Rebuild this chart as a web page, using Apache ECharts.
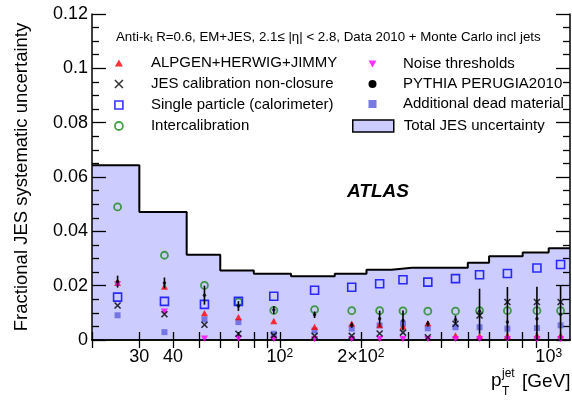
<!DOCTYPE html>
<html><head><meta charset="utf-8">
<script src="https://cdn.jsdelivr.net/npm/echarts@6/dist/echarts.min.js"></script>
<style>html,body{margin:0;padding:0;background:#fff}#c{width:572px;height:401px}</style>
</head><body><div id="c"></div>
<script>
// ---------- data ----------
const binEdges = [20, 30, 45, 60, 80, 110, 160, 210, 260, 310, 400, 500, 600, 800, 1000, 1200];
const totalJES = [0.0643, 0.0471, 0.0314, 0.0256, 0.0244, 0.0235, 0.0244, 0.0259, 0.0266, 0.0266, 0.0266, 0.0284, 0.0308, 0.0322, 0.0338];
const ptCenters = [24.9, 37.2, 52.4, 70.1, 94.9, 134.6, 185, 235, 287, 355, 450, 553, 702, 904, 1107];
const alpgen = [0.0210, 0.0197, 0.0099, 0.0084, 0.0070, 0.0048, 0.0060, 0.0055, 0.0050, 0.0062, 0.0017, 0.0015, 0.0015, 0.0017, 0.0017];
const nonClosure = [0.0127, 0.0095, 0.0056, 0.0023, 0.0017, 0.0015, 0.0015, 0.0024, 0.0027, 0.0010, 0.0060, 0.0090, 0.0140, 0.0140, 0.0140];
const singleParticle = [0.0158, 0.0142, 0.0131, 0.0142, 0.0161, 0.0183, 0.0194, 0.0207, 0.0222, 0.0213, 0.0226, 0.0240, 0.0245, 0.0265, 0.0278];
const intercalibration = [0.0490, 0.0312, 0.0201, 0.0140, 0.0109, 0.0112, 0.0108, 0.0108, 0.0107, 0.0106, 0.0106, 0.0108, 0.0108, 0.0108, 0.0108];
const noiseThresholds = [0.0205, 0.0104, 0.0005, 0.0005, 0.0003, 0.0003, 0.0003, 0.0003, 0.0003, 0.0003, 0.0003, 0.0003, 0.0003, 0.0003, 0.0003];
const pythiaPerugia = [0.0215, 0.0210, 0.0165, 0.0125, 0.0110, 0.0093, 0.0055, 0.0078, 0.0072, 0.0060, 0.0075, 0.0106, 0.0066, 0.0078, 0.0095];
const pythiaErr = [0.0022, 0.0020, 0.0035, 0.0018, 0.0015, 0.0012, 0.0010, 0.0030, 0.0037, 0.0010, 0.0015, 0.0083, 0.0129, 0.0118, 0.0105];
const deadMaterial = [0.0091, 0.0029, 0.0076, 0.0066, 0.0023, 0.0035, 0.0042, 0.0054, 0.0060, 0.0043, 0.0047, 0.0047, 0.0042, 0.0044, 0.0054];
const xLabelValues = [30, 40, 100, 200, 1000];
const xLabelTexts = ['30', '40', '{b|10}{s|2}', '{b|2×10}{s|2}', '{b|10}{s|3}'];
const xTickValues = [20, 30, 40, 50, 60, 70, 80, 90, 100, 200, 300, 400, 500, 600, 700, 800, 900, 1000];

// ---------- style ----------
const FONT = '"Liberation Sans", Arial, Helvetica, sans-serif';
const TRI_UP = 'path://M5,0L10,9L0,9Z';
const TRI_DOWN = 'path://M0,0L10,0L5,9Z';
const SQUARE = 'path://M0,0L10,0L10,10L0,10Z';
const CROSS = 'path://M0,0L10,10M10,0L0,10';
const CLEAR = 'rgba(0,0,0,0)';
const C_GREEN = '#1a8a1a', C_BLUE = '#0000ff', C_RED = '#ff0000', C_MAG = '#ff00ff', C_DEAD = '#6b6be0';

const chart = echarts.init(document.getElementById('c'), null, {renderer: 'canvas'});
const histData = binEdges.map((e, i) => [e, totalJES[Math.min(i, totalJES.length - 1)]]);
const pts = arr => ptCenters.map((x, i) => [x, arr[i]]);

function xAxis(pos, labels) {
  return {
    type: 'log', logBase: 10, min: binEdges[0], max: binEdges[binEdges.length - 1], position: pos,
    axisLine: {show: true, lineStyle: {color: '#000', width: 1.5}},
    axisTick: {show: true, inside: true, length: 8, customValues: xTickValues, lineStyle: {color: '#000', width: 1.3}},
    splitLine: {show: false},
    axisLabel: labels ? {
      show: true, customValues: xLabelValues, margin: 8, color: '#000',
      fontFamily: FONT, fontSize: 18,
      formatter: v => { const i = xLabelValues.findIndex(t => Math.abs(t - v) / t < 1e-6); return i >= 0 ? xLabelTexts[i] : ''; },
      rich: {b: {fontFamily: FONT, fontSize: 18, color: '#000'}, s: {fontFamily: FONT, fontSize: 12, color: '#000', verticalAlign: 'top'}}
    } : {show: false}
  };
}
function yAxis(pos, labels) {
  return {
    type: 'value', min: 0, max: 0.12, interval: 0.02, position: pos,
    axisLine: {show: true, lineStyle: {color: '#000', width: 1.5}},
    axisTick: {show: true, inside: true, length: 14, lineStyle: {color: '#000', width: 1.3}},
    minorTick: {show: true, length: 7, splitNumber: 4, lineStyle: {color: '#000', width: 1.3}},
    splitLine: {show: false},
    axisLabel: labels ? {show: true, margin: 4, color: '#000', fontFamily: FONT, fontSize: 18} : {show: false},
    name: labels ? 'Fractional JES systematic uncertainty' : '',
    nameLocation: 'middle', nameRotate: 90, nameGap: 61,
    nameTextStyle: {fontFamily: FONT, fontSize: 18.5, color: '#000'}
  };
}
function scatter(name, data, symbol, size, style, z) {
  return {name, type: 'scatter', data, symbol, symbolSize: size, symbolKeepAspect: true,
    itemStyle: style, z: z || 3, silent: true};
}
const legendText = {fontFamily: FONT, fontSize: 15, color: '#000'};
function legendCol(cx, textX, top, gap, items) {
  return {left: cx - 4, top, orient: 'vertical', padding: 0, itemWidth: 8, itemHeight: 8, itemGap: gap,
    selectedMode: false, textStyle: Object.assign({padding: [0, 0, 0, textX - (cx - 4) - 13]}, legendText), data: items};
}

const option = {
  animation: false,
  backgroundColor: '#fff',
  grid: {left: 92, right: 2, top: 14, bottom: 61},
  xAxis: [xAxis('bottom', true), xAxis('top', false)],
  yAxis: [yAxis('left', true), yAxis('right', false)],
  legend: [
    legendCol(118, 150, 55.5, 6, [
       {name: 'ALPGEN+HERWIG+JIMMY', icon: TRI_UP, itemStyle: {color: C_RED, borderWidth: 0}},
       {name: 'JES calibration non-closure', icon: CROSS, itemStyle: {color: CLEAR, borderColor: '#000', borderWidth: 1.6}},
       {name: 'Single particle (calorimeter)', icon: SQUARE, itemStyle: {color: CLEAR, borderColor: C_BLUE, borderWidth: 1.6}},
       {name: 'Intercalibration', icon: 'circle', itemStyle: {color: CLEAR, borderColor: C_GREEN, borderWidth: 1.8}}
    ]),
    legendCol(372.5, 403, 56.5, 5, [
       {name: 'Noise thresholds', icon: TRI_DOWN, itemStyle: {color: C_MAG, borderWidth: 0}},
       {name: 'PYTHIA PERUGIA2010', icon: 'circle', itemStyle: {color: '#000', borderWidth: 0}},
       {name: 'Additional dead material', icon: SQUARE, itemStyle: {color: C_DEAD, borderWidth: 0}}
    ]),
    {left: 352, top: 118.5, orient: 'vertical', padding: 0, itemWidth: 41, itemHeight: 12,
     selectedMode: false, textStyle: Object.assign({padding: [0, 0, 0, 5]}, legendText),
     data: [{name: 'Total JES uncertainty', icon: 'rect', itemStyle: {color: '#ccccff', borderColor: '#000', borderWidth: 1.5}}]}
  ],
  graphic: [
    {type: 'text', left: 116, top: 31, silent: true,
     style: {text: 'Anti-k{sub|t} R=0.6, EM+JES, 2.1≤ |η| < 2.8, Data 2010 + Monte Carlo incl jets',
             fontFamily: FONT, fontSize: 13.3, fill: '#000',
             rich: {sub: {fontFamily: FONT, fontSize: 9, fill: '#000', verticalAlign: 'bottom'}}}},
    {type: 'text', x: 347, y: 192, silent: true,
     style: {text: 'ATLAS', fontFamily: FONT, fontSize: 19, fontWeight: 'bold', fontStyle: 'italic', fill: '#000', verticalAlign: 'middle'}},
    {type: 'text', x: 491, y: 381, silent: true, style: {text: 'p', fontFamily: FONT, fontSize: 19, fill: '#000', verticalAlign: 'middle'}},
    {type: 'text', x: 502, y: 374, silent: true, style: {text: 'jet', fontFamily: FONT, fontSize: 12, fill: '#000', verticalAlign: 'middle'}},
    {type: 'text', x: 502, y: 392, silent: true, style: {text: 'T', fontFamily: FONT, fontSize: 12, fill: '#000', verticalAlign: 'middle'}},
    {type: 'text', x: 522, y: 382, silent: true, style: {text: '[GeV]', fontFamily: FONT, fontSize: 19, fill: '#000', verticalAlign: 'middle'}}
  ],
  series: [
    {name: 'Total JES uncertainty', type: 'line', step: 'end', data: histData, symbol: 'none', silent: true,
     lineStyle: {color: '#000', width: 2}, itemStyle: {color: '#ccccff'},
     areaStyle: {color: '#ccccff', opacity: 1}, z: -1},
    scatter('Intercalibration', pts(intercalibration), 'circle', 7, {color: CLEAR, borderColor: C_GREEN, borderWidth: 1.8}),
    scatter('Single particle (calorimeter)', pts(singleParticle), SQUARE, 8, {color: CLEAR, borderColor: C_BLUE, borderWidth: 1.6}),
    scatter('Additional dead material', pts(deadMaterial), SQUARE, 6, {color: C_DEAD, opacity: 0.9}),
    scatter('ALPGEN+HERWIG+JIMMY', pts(alpgen), TRI_UP, 7, {color: C_RED}),
    scatter('Noise thresholds', pts(noiseThresholds), TRI_DOWN, 7, {color: C_MAG}),
    {name: 'PYTHIA PERUGIA2010', type: 'custom', silent: true, z: 4,
     data: ptCenters.map((x, i) => [x, pythiaPerugia[i], pythiaErr[i]]),
     renderItem: (params, api) => {
       const x = api.value(0), y = api.value(1), e = api.value(2);
       const a = api.coord([x, y + e]), b = api.coord([x, Math.max(y - e, 0)]);
       return {type: 'line', shape: {x1: a[0], y1: a[1], x2: b[0], y2: b[1]}, style: {stroke: '#000', lineWidth: 1.6}};
     }},
    scatter('PYTHIA PERUGIA2010', pts(pythiaPerugia), 'circle', 3.5, {color: '#000'}, 5),
    scatter('JES calibration non-closure', pts(nonClosure), CROSS, 6, {color: CLEAR, borderColor: '#000', borderWidth: 1.6}, 5)
  ]
};
chart.setOption(option);
</script>
</body></html>
